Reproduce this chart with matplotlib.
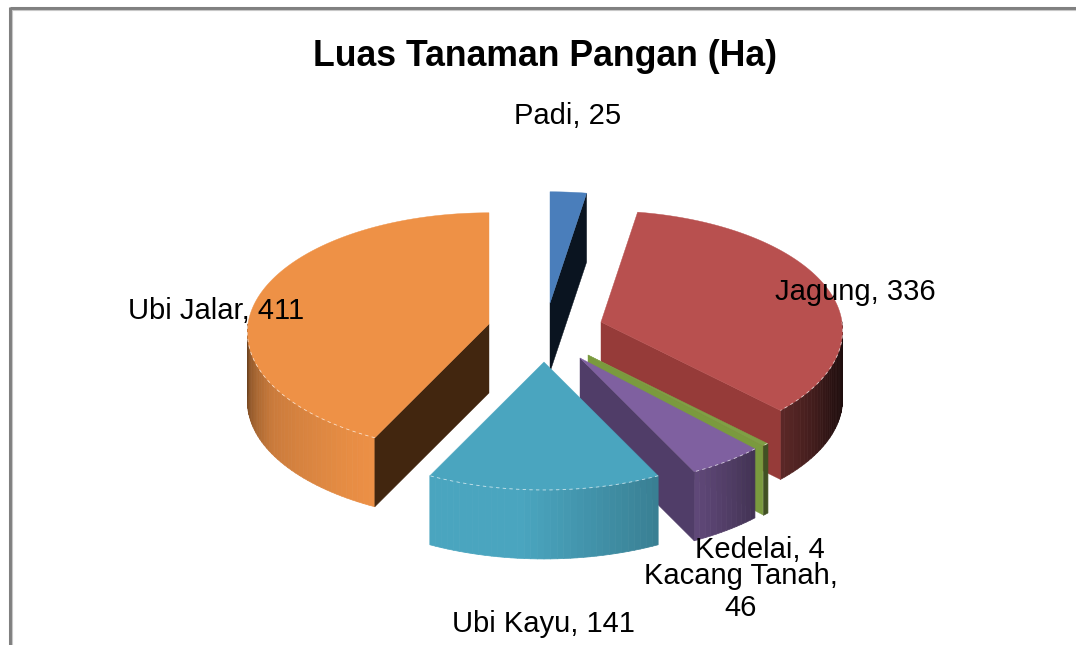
import numpy as np
import matplotlib
matplotlib.use("Agg")
import matplotlib.pyplot as plt
from matplotlib.collections import PolyCollection

# Data
labels = ["Padi", "Jagung", "Kedelai", "Kacang Tanah", "Ubi Kayu", "Ubi Jalar"]
values = [25, 336, 4, 46, 141, 411]
label_text = ["Padi, 25", "Jagung, 336", "Kedelai, 4", "Kacang Tanah,\n46", "Ubi Kayu, 141", "Ubi Jalar, 411"]
TITLE = "Luas Tanaman Pangan (Ha)"

# Colours per slice
top_colors = ["#4A7EBB", "#B8504F", "#7F9F45", "#7F60A0", "#4AA5BF", "#EE9146"]
cut_colors = ["#0A1420", "#963B39", "#7A9A3E", "#503D68", "#3B8AA0", "#42260F"]

# Layout control zone (all in pixels of the output png)
apex_x = [550, 601, 588, 580, 544, 489]
apex_y = [303, 322, 355, 358, 362, 324]
label_x = [568, 855, 760, 741, 543, 216]
label_y = [116, 292, 550, 592, 624, 311]
draw_order = [0, 5, 1, 2, 3, 4]
A = 241
B = 119
PERSP = 0.07
HEIGHT = 69
FIGSIZE = (10.76, 6.45)
FONT = "Liberation Sans"

# brightness of the outer wall by angle
shade_angles = [90, 110, 135, 155, 185, 206, 240, 270]
shade_values = [0.12, 0.22, 0.5, 0.78, 1.0, 1.0, 0.85, 0.45]


def project(t, cx, cy):
    # t in degrees, clockwise from 12 o'clock
    rad = np.radians(t)
    depth = np.cos(rad)
    s = 1 / (1 + PERSP * depth)
    return cx + A * np.sin(rad) * s, cy - B * depth * s


def darken(color, f):
    rgb = np.array(matplotlib.colors.to_rgb(color))
    return tuple(np.clip(rgb * f, 0, 1))


def draw_slice(ax, start, end, cx, cy, top, cut):
    ts = np.linspace(start, end, max(int(end - start) * 2, 4))
    xs, ys = project(ts, cx, cy)

    # outer wall as narrow strips
    lo, hi = max(start, 90), min(end, 270)
    if hi > lo:
        wall_t = np.linspace(lo, hi, int((hi - lo) / 1.5) + 2)
        wx, wy = project(wall_t, cx, cy)
        polys = []
        cols = []
        for i in range(len(wall_t) - 1):
            polys.append([(wx[i], wy[i]), (wx[i + 1], wy[i + 1]),
                          (wx[i + 1], wy[i + 1] + HEIGHT), (wx[i], wy[i] + HEIGHT)])
            f = np.interp((wall_t[i] + wall_t[i + 1]) / 2, shade_angles, shade_values)
            cols.append(darken(top, f))
        ax.add_collection(PolyCollection(polys, facecolors=cols, edgecolors=cols, linewidths=0.5))

    # cut faces that turn towards the viewer
    for t, visible in ((start, np.sin(np.radians(start)) < -1e-6), (end, np.sin(np.radians(end)) > 1e-6)):
        if visible:
            ex, ey = project(t, cx, cy)
            ax.fill([cx, ex, ex, cx], [cy, ey, ey + HEIGHT, cy + HEIGHT], color=cut, lw=0.3)

    ax.fill(np.r_[cx, xs], np.r_[cy, ys], color=top, lw=0.3)
    # thin white rim on the top face
    if hi > lo:
        rx, ry = project(np.linspace(lo, hi, 60), cx, cy)
        ax.plot(rx, ry, color="white", lw=0.6, ls=(0, (4, 4)), alpha=0.7)


fig = plt.figure(figsize=FIGSIZE, dpi=100)
ax = fig.add_axes([0, 0, 1, 1])
ax.set_xlim(0, 1076)
ax.set_ylim(645, 0)
ax.axis("off")

# grey frame, cut off at the right and bottom of the screenshot
ax.plot([9.5, 1076], [8, 8], color="#808080", lw=2.2, solid_capstyle="butt")
ax.plot([11, 1076], [10, 10], color="#c8c8c8", lw=0.8, solid_capstyle="butt")
ax.plot([9.5, 9.5], [7, 645], color="#808080", lw=2.2, solid_capstyle="butt")
ax.plot([11.5, 11.5], [10, 645], color="#c8c8c8", lw=0.8, solid_capstyle="butt")

edges = np.r_[0, np.cumsum(values)] / np.sum(values) * 360
for i in draw_order:
    draw_slice(ax, edges[i], edges[i + 1], apex_x[i], apex_y[i], top_colors[i], cut_colors[i])

ax.text(545, 56, TITLE, ha="center", va="center", fontsize=25.7, fontweight="bold", family=FONT, color="black")
for i in range(len(labels)):
    ax.text(label_x[i], label_y[i], label_text[i], ha="center", va="center", fontsize=21,
            family=FONT, color="black", linespacing=1.15, zorder=10)

fig.savefig("out.png", dpi=100)
